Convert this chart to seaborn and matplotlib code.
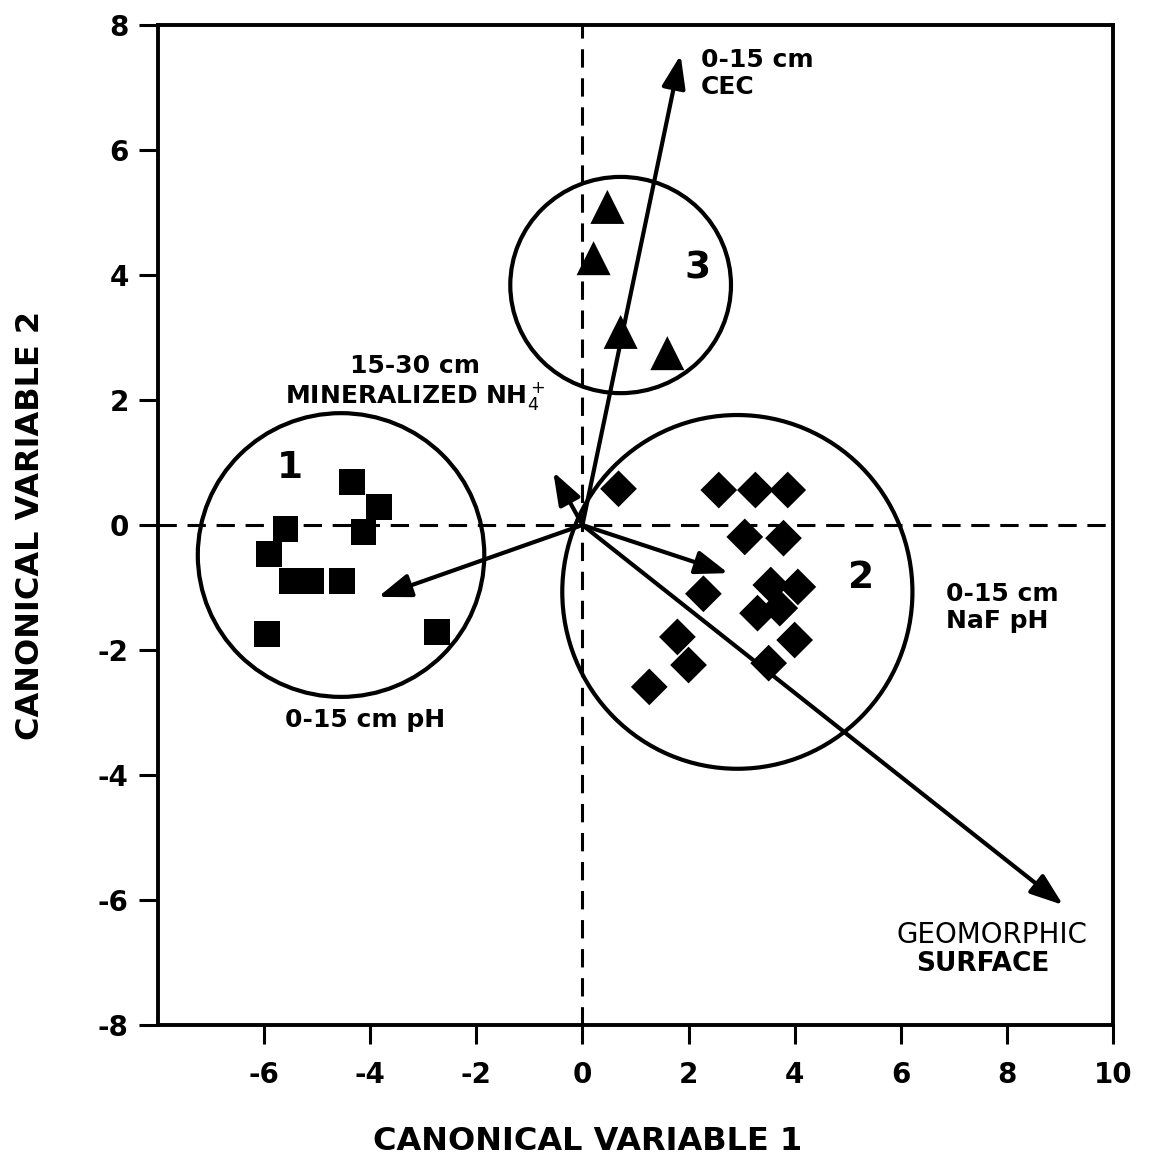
import numpy as np
import pandas as pd
import matplotlib
matplotlib.use("Agg")
import matplotlib.pyplot as plt
import seaborn as sns
from matplotlib.patches import Ellipse

# canonical scores per group
g1_x = [-4.34, -3.83, -4.13, -5.60, -5.91, -5.47, -5.11, -4.53, -5.94, -2.74]
g1_y = [0.69, 0.29, -0.11, -0.06, -0.46, -0.90, -0.90, -0.90, -1.74, -1.71]
g2_x = [0.68, 2.57, 3.26, 3.87, 3.06, 3.79, 2.28, 3.55, 4.06, 3.30, 3.72, 4.00, 3.51, 1.79, 2.00, 1.26]
g2_y = [0.58, 0.56, 0.56, 0.56, -0.19, -0.21, -1.10, -0.96, -0.99, -1.41, -1.33, -1.84, -2.21, -1.79, -2.24, -2.59]
g3_x = [0.47, 0.21, 0.72, 1.60]
g3_y = [5.09, 4.27, 3.09, 2.75]

# group confidence circles
circle_labels = ["1", "2", "3"]
circle_cx = [-4.55, 2.92, 0.72]
circle_cy = [-0.48, -1.07, 3.84]
circle_rx = [2.70, 3.30, 2.08]
circle_ry = [2.27, 2.83, 1.73]
circle_label_x = [-5.51, 5.25, 2.17]
circle_label_y = [0.91, -0.85, 4.11]

# variable vectors (tips, all drawn from the origin)
vec_names = ["0-15 cm CEC", "15-30 cm MINERALIZED NH4+", "0-15 cm NaF pH",
             "0-15 cm pH", "GEOMORPHIC SURFACE"]
vec_x = [1.85, -0.55, 2.75, -3.85, 9.06]
vec_y = [7.52, 0.85, -0.77, -1.15, -6.08]

df = pd.DataFrame({
    "cv1": g1_x + g2_x + g3_x,
    "cv2": g1_y + g2_y + g3_y,
    "group": ["1"] * len(g1_x) + ["2"] * len(g2_x) + ["3"] * len(g3_x),
})

sns.set_theme(style="ticks")
plt.rcParams["font.family"] = ["DejaVu Sans"]
plt.rcParams["text.color"] = "black"
plt.rcParams["axes.labelcolor"] = "black"

fig = plt.figure(figsize=(11.5, 11.59), dpi=100)
ax = fig.add_axes([0.1374, 0.1156, 0.8304, 0.8628])

sns.scatterplot(
    data=df, x="cv1", y="cv2", style="group", size="group",
    markers={"1": "s", "2": "D", "3": "^"},
    sizes={"1": 340, "2": 350, "3": 600},
    color="black", edgecolor="black", linewidth=0, legend=False, ax=ax, zorder=3,
)

# reference axes through origin
ax.axhline(0, color="black", lw=2.2, dashes=(6, 3.5), zorder=1)
ax.axvline(0, color="black", lw=2.2, dashes=(6, 3.5), zorder=1)

for cx, cy, rx, ry, lab, lx, ly in zip(circle_cx, circle_cy, circle_rx, circle_ry,
                                       circle_labels, circle_label_x, circle_label_y):
    ax.add_patch(Ellipse((cx, cy), 2 * rx, 2 * ry, fill=False, lw=3, ec="black", zorder=2))
    ax.text(lx, ly, lab, fontsize=27, fontweight="bold", ha="center", va="center",
            color="black")

for vx, vy in zip(vec_x, vec_y):
    ax.annotate("", xy=(vx, vy), xytext=(0, 0),
                arrowprops=dict(arrowstyle="-|>,head_length=1.0,head_width=0.36",
                                lw=3, color="black", mutation_scale=20,
                                shrinkA=0, shrinkB=0), zorder=4)

# vector labels
ax.text(2.23, 7.22, "0-15 cm\nCEC", fontsize=18, fontweight="bold", ha="left",
        va="center", linespacing=1.15)
ax.text(-3.15, 2.27, "15-30 cm\nMINERALIZED NH$_4^+$", fontsize=18, fontweight="bold",
        ha="center", va="center", linespacing=1.1)
ax.text(6.85, -1.32, "0-15 cm\nNaF pH", fontsize=18, fontweight="bold", ha="left",
        va="center", linespacing=1.15)
ax.text(-4.09, -3.12, "0-15 cm pH", fontsize=18, fontweight="bold", ha="center", va="center")
ax.text(7.72, -6.56, "GEOMORPHIC", fontsize=20, ha="center", va="center")
ax.text(7.55, -7.02, "SURFACE", fontsize=19, fontweight="bold", ha="center", va="center")

ax.set_xlim(-8, 10)
ax.set_ylim(-8, 8)
ax.set_xticks(np.arange(-6, 11, 2))
ax.set_yticks(np.arange(-8, 9, 2))
ax.set_xticklabels([str(v) for v in range(-6, 11, 2)], fontweight="bold")
ax.set_yticklabels([str(v) for v in range(-8, 9, 2)], fontweight="bold")
ax.tick_params(axis="both", direction="out", length=14, width=2.2, color="black",
               labelsize=20, labelcolor="black")
ax.tick_params(axis="x", pad=12)
ax.tick_params(axis="y", pad=7)
for sp in ax.spines.values():
    sp.set_linewidth(2.8)
    sp.set_color("black")

ax.set_xlabel("CANONICAL VARIABLE 1", fontsize=23, fontweight="bold")
ax.set_ylabel("CANONICAL VARIABLE 2", fontsize=23, fontweight="bold")
ax.xaxis.set_label_coords(0.45, -0.101)
ax.yaxis.set_label_coords(-0.117, 0.5)
ax.grid(False)

fig.savefig("out.png", dpi=100, facecolor="white")
